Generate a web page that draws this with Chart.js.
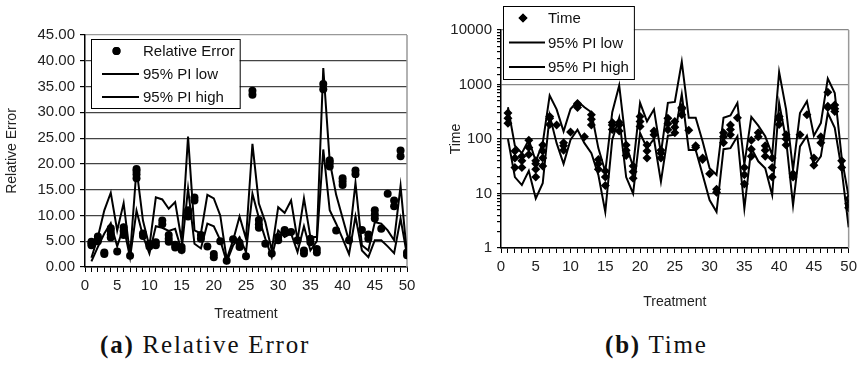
<!DOCTYPE html>
<html>
<head>
<meta charset="utf-8">
<script src="https://cdn.jsdelivr.net/npm/chart.js@4.4.1/dist/chart.umd.min.js"></script>
<style>
  html, body { margin: 0; padding: 0; background: #fff; }
  body { width: 862px; height: 366px; position: relative; overflow: hidden; }
  #boxA { position: absolute; left: 0; top: 0; width: 425px; height: 327px; }
  #boxB { position: absolute; left: 430px; top: 0; width: 432px; height: 315px; }
  .caption { position: absolute; top: 331px; font-family: "Liberation Serif", "Times New Roman", serif;
             font-size: 25px; letter-spacing: 1.8px; color: #111; white-space: nowrap; }
  .caption b { font-weight: bold; }
</style>
</head>
<body>
<div id="boxA"><canvas id="chartA"></canvas></div>
<div id="boxB"><canvas id="chartB"></canvas></div>
<div class="caption" id="capA" style="left:100px"><b>(a)</b> Relative Error</div>
<div class="caption" id="capB" style="left:605px"><b>(b)</b> Time</div>
<script>
// treatments 1..50
const treatments = [1, 2, 3, 4, 5, 6, 7, 8, 9, 10, 11, 12, 13, 14, 15, 16, 17, 18, 19, 20,
    21, 22, 23, 24, 25, 26, 27, 28, 29, 30, 31, 32, 33, 34, 35, 36, 37, 38, 39, 40,
    41, 42, 43, 44, 45, 46, 47, 48, 49, 50];

// (a) relative error, several runs per treatment
const relErrPoints = [
    [4.2, 4.6, 4.9], [5.0, 5.5, 5.9], [2.5, 2.8], [5.7, 6.3, 7.0, 7.5], [3.0],
    [6.2, 7.0, 7.7], [2.2], [17.2, 18.0, 18.6, 19.0], [6.0, 6.5], [4.0, 4.5],
    [4.2, 4.8], [8.3, 9.0], [4.9, 5.5, 6.2], [3.8, 4.3], [3.3, 3.9],
    [9.8, 10.5, 11.0], [12.9, 13.5], [5.5, 6.2], [4.0], [1.9, 2.5],
    [5.0], [1.2], [5.4], [3.9, 4.7], [2.1],
    [33.4, 34.2], [7.6, 8.3, 9.1], [4.5], [2.6], [5.2, 5.8],
    [6.8, 7.2], [6.8], [5.2], [2.6, 3.2], [4.8, 5.5],
    [2.8, 3.5], [34.5, 35.5], [19.5, 20.2, 20.7], [7.1], [15.9, 16.6, 17.2],
    [5.2], [18.0, 18.7], [7.2], [5.5, 6.3], [9.4, 10.2, 11.0],
    [7.4], [14.2], [11.8, 12.9], [21.5, 22.6], [2.3, 2.8]
];
const relErrLow = [1.1, 3.9, 6.5, 8.5, 4.0, 7.8, 1.8, 10.9, 6.0, 2.6,
    7.9, 7.6, 7.0, 7.4, 3.2, 15.2, 4.5, 3.6, 8.4, 7.9,
    5.2, 1.0, 4.2, 5.8, 2.9, 14.2, 9.5, 5.5, 1.9, 7.1,
    5.8, 6.5, 2.9, 7.9, 3.2, 5.0, 22.8, 11.0, 8.4, 5.5,
    2.5, 9.8, 3.2, 1.9, 5.2, 5.2, 4.0, 2.7, 9.4, 2.3];
const relErrHigh = [1.8, 5.8, 11.0, 14.4, 7.1, 12.4, 2.3, 19.1, 9.0, 4.0,
    13.5, 13.1, 11.3, 12.6, 5.2, 25.3, 7.1, 6.5, 14.0, 13.3,
    10.0, 1.5, 5.2, 9.8, 5.5, 23.9, 12.3, 8.7, 3.2, 11.6,
    10.5, 12.9, 5.2, 13.3, 5.8, 5.8, 38.6, 20.5, 14.0, 9.5,
    5.0, 16.3, 4.2, 3.2, 8.7, 8.4, 7.1, 5.2, 15.7, 2.3];
const relErrTicks = [0, 5, 10, 15, 20, 25, 30, 35, 40, 45];

// (b) time, several runs per treatment
const timePoints = [
    [195, 240, 300], [30, 45, 60], [30, 40, 48], [52, 70, 95], [20, 28, 35, 40],
    [32, 45, 60, 78], [185, 240, 260], [180], [62, 75, 85], [135],
    [380, 420, 450], [110], [180, 230, 280], [28, 35, 42], [14, 20, 26],
    [150, 180, 200], [140, 180, 200], [50, 62, 78], [19, 25, 32], [170, 210, 260],
    [45, 60, 78], [120, 140], [45, 55, 62], [148, 190, 240], [130, 165, 210],
    [280, 360, 380], [145], [70, 75], [42, 45], [23],
    [10.5, 12], [85, 110, 130], [120, 150, 180], [245], [15, 22, 30],
    [48, 65, 95], [110, 130], [48, 62, 75], [20, 30, 45], [185, 230, 260],
    [78, 100, 120], [20, 23], [120], [280], [33, 45],
    [85, 110], [380, 400, 720], [320, 360, 420], [30, 40], [5.5, 6.5, 8]
];
const timeLow = [100, 20, 14.3, 26, 8.1, 15.4, 270, 84, 35, 97,
    148, 84, 55, 22, 4.6, 97, 245, 20, 10, 129,
    68, 100, 16.5, 115, 120, 660, 63, 63, 22, 7.6,
    4.6, 65, 68, 112, 5.3, 68, 39, 29, 9.4, 460,
    97, 6.1, 73, 115, 32, 48, 300, 160, 27, 2.4];
const timeHigh = [383, 75, 55, 97, 39, 84, 630, 350, 138, 355,
    495, 383, 310, 68, 25, 310, 960, 78, 31, 460,
    211, 350, 55, 460, 480, 2600, 245, 245, 90, 29,
    22, 245, 270, 460, 34, 254, 176, 112, 51, 1700,
    350, 27, 300, 495, 115, 196, 1280, 700, 45, 8.7];
const timeTicks = [1, 10, 100, 1000, 10000];

const xTicks = [0, 5, 10, 15, 20, 25, 30, 35, 40, 45, 50];

Chart.defaults.font.family = '"Liberation Sans", Arial, sans-serif';
Chart.defaults.color = '#222';
Chart.defaults.animation = false;

function runs(groups) {
    const out = [];
    groups.forEach((g, i) => g.forEach(v => out.push({ x: treatments[i], y: v })));
    return out;
}
function series(vals) {
    return vals.map((v, i) => ({ x: treatments[i], y: v }));
}

// legend drawn in a box inside the plot
const boxLegend = {
    id: 'boxLegend',
    afterDatasetsDraw(chart, args, opts) {
        const ctx = chart.ctx;
        const a = chart.chartArea;
        const x0 = a.left + opts.dx, y0 = a.top + opts.dy;
        ctx.save();
        ctx.font = '15px "Liberation Sans", Arial, sans-serif';
        let tw = 0;
        chart.data.datasets.forEach(ds => { tw = Math.max(tw, ctx.measureText(ds.label).width); });
        const w = opts.textX + tw + 5, h = opts.height;
        ctx.fillStyle = '#fff';
        ctx.fillRect(x0, y0, w, h);
        ctx.strokeStyle = '#000';
        ctx.lineWidth = 1;
        ctx.strokeRect(x0 + 0.5, y0 + 0.5, w, h);
        chart.data.datasets.forEach((ds, i) => {
            const cy = y0 + opts.firstRow + i * opts.rowGap;
            ctx.fillStyle = '#000';
            ctx.strokeStyle = '#000';
            if (ds.showLine) {
                ctx.lineWidth = 2;
                ctx.beginPath();
                ctx.moveTo(x0 + opts.lineFrom, cy);
                ctx.lineTo(x0 + opts.lineTo, cy);
                ctx.stroke();
            } else {
                const mx = x0 + (opts.lineFrom + opts.lineTo) / 2 - 4;
                Chart.helpers.drawPoint(ctx, { pointStyle: ds.pointStyle, radius: ds.pointRadius, borderWidth: 0 }, mx, cy);
                ctx.fill();
            }
            ctx.fillStyle = '#111';
            ctx.textBaseline = 'middle';
            ctx.fillText(ds.label, x0 + opts.textX, cy + 1);
        });
        ctx.restore();
    }
};

// gray frame on the right side of the plot
const rightFrame = {
    id: 'rightFrame',
    beforeDatasetsDraw(chart) {
        const ctx = chart.ctx, a = chart.chartArea;
        ctx.save();
        ctx.strokeStyle = '#999';
        ctx.lineWidth = 1.5;
        ctx.beginPath();
        ctx.moveTo(a.right, a.top);
        ctx.lineTo(a.right, a.bottom);
        ctx.stroke();
        ctx.restore();
    }
};

function xAxis(height) {
    return {
        type: 'linear',
        min: 0,
        max: 50,
        afterFit: s => { s.height = height; },
        afterBuildTicks: s => { s.ticks = treatments.concat([0]).sort((p, q) => p - q).map(v => ({ value: v })); },
        ticks: {
            autoSkip: false,
            maxRotation: 0,
            padding: 5,
            font: { size: 15 },
            callback: v => xTicks.includes(v) ? String(v) : ''
        },
        grid: { drawOnChartArea: false, tickLength: 5, tickColor: '#000', tickWidth: 1 },
        border: { color: '#000', width: 1.5 },
        title: { display: true, text: 'Treatment', font: { size: 14 }, color: '#222', padding: { top: 0, bottom: 4 } }
    };
}

new Chart(document.getElementById('chartA'), {
    type: 'scatter',
    data: {
        datasets: [
            { label: 'Relative Error', data: runs(relErrPoints), pointStyle: 'circle', pointRadius: 4,
              backgroundColor: '#000', borderColor: '#000', borderWidth: 0 },
            { label: '95% PI low', data: series(relErrLow), showLine: true, pointRadius: 0,
              borderColor: '#000', borderWidth: 2, backgroundColor: '#000' },
            { label: '95% PI high', data: series(relErrHigh), showLine: true, pointRadius: 0,
              borderColor: '#000', borderWidth: 2, backgroundColor: '#000' }
        ]
    },
    options: {
        responsive: true,
        maintainAspectRatio: false,
        layout: { padding: { top: 35, right: 18, left: 0, bottom: 0 } },
        plugins: {
            legend: { display: false },
            tooltip: { enabled: false },
            boxLegend: { dx: 6, dy: 4, height: 69, firstRow: 12, rowGap: 23, lineFrom: 11, lineTo: 48, textX: 52 }
        },
        scales: {
            x: xAxis(60),
            y: {
                min: 0,
                max: 45,
                afterFit: s => { s.width = 85; },
                afterBuildTicks: s => { s.ticks = relErrTicks.map(v => ({ value: v })); },
                ticks: { padding: 5, font: { size: 15 }, callback: v => v.toFixed(2) },
                grid: {
                    color: c => c.tick && c.tick.value === 45 ? '#999' : '#444',
                    lineWidth: 1.2,
                    tickLength: 5,
                    tickColor: '#000'
                },
                border: { color: '#000', width: 1.5 },
                title: { display: true, text: 'Relative Error', font: { size: 14 }, color: '#222', padding: { top: 4, bottom: 0 } }
            }
        }
    },
    plugins: [rightFrame, boxLegend]
});

const isPow10 = v => Math.abs(Math.log10(v) - Math.round(Math.log10(v))) < 1e-9;

new Chart(document.getElementById('chartB'), {
    type: 'scatter',
    data: {
        datasets: [
            { label: 'Time', data: runs(timePoints), pointStyle: 'rectRot', pointRadius: 4.5,
              backgroundColor: '#000', borderColor: '#000', borderWidth: 0 },
            { label: '95% PI low', data: series(timeLow), showLine: true, pointRadius: 0,
              borderColor: '#000', borderWidth: 2, backgroundColor: '#000' },
            { label: '95% PI high', data: series(timeHigh), showLine: true, pointRadius: 0,
              borderColor: '#000', borderWidth: 2, backgroundColor: '#000' }
        ]
    },
    options: {
        responsive: true,
        maintainAspectRatio: false,
        layout: { padding: { top: 30, right: 10, left: 0, bottom: 0 } },
        plugins: {
            legend: { display: false },
            tooltip: { enabled: false },
            boxLegend: { dx: 2, dy: -24, height: 73, firstRow: 12, rowGap: 24.5, lineFrom: 6, lineTo: 42, textX: 45 }
        },
        scales: {
            x: xAxis(67),
            y: {
                type: 'logarithmic',
                min: 1,
                max: 10000,
                afterFit: s => { s.width = 71; },
                ticks: { autoSkip: false, padding: 5, font: { size: 15 },
                         callback: v => (isPow10(v) && timeTicks.includes(Math.round(v))) ? String(Math.round(v)) : '' },
                grid: {
                    color: c => !c.tick || !isPow10(c.tick.value) ? 'rgba(0,0,0,0)' : (c.tick.value >= 1000 ? '#888' : '#333'),
                    lineWidth: 1.2,
                    tickLength: 4,
                    tickColor: '#000'
                },
                border: { color: '#000', width: 1.5 },
                title: { display: true, text: 'Time', font: { size: 14 }, color: '#222', padding: { top: 18, bottom: 0 } }
            }
        }
    },
    plugins: [rightFrame, boxLegend]
});
</script>
</body>
</html>
